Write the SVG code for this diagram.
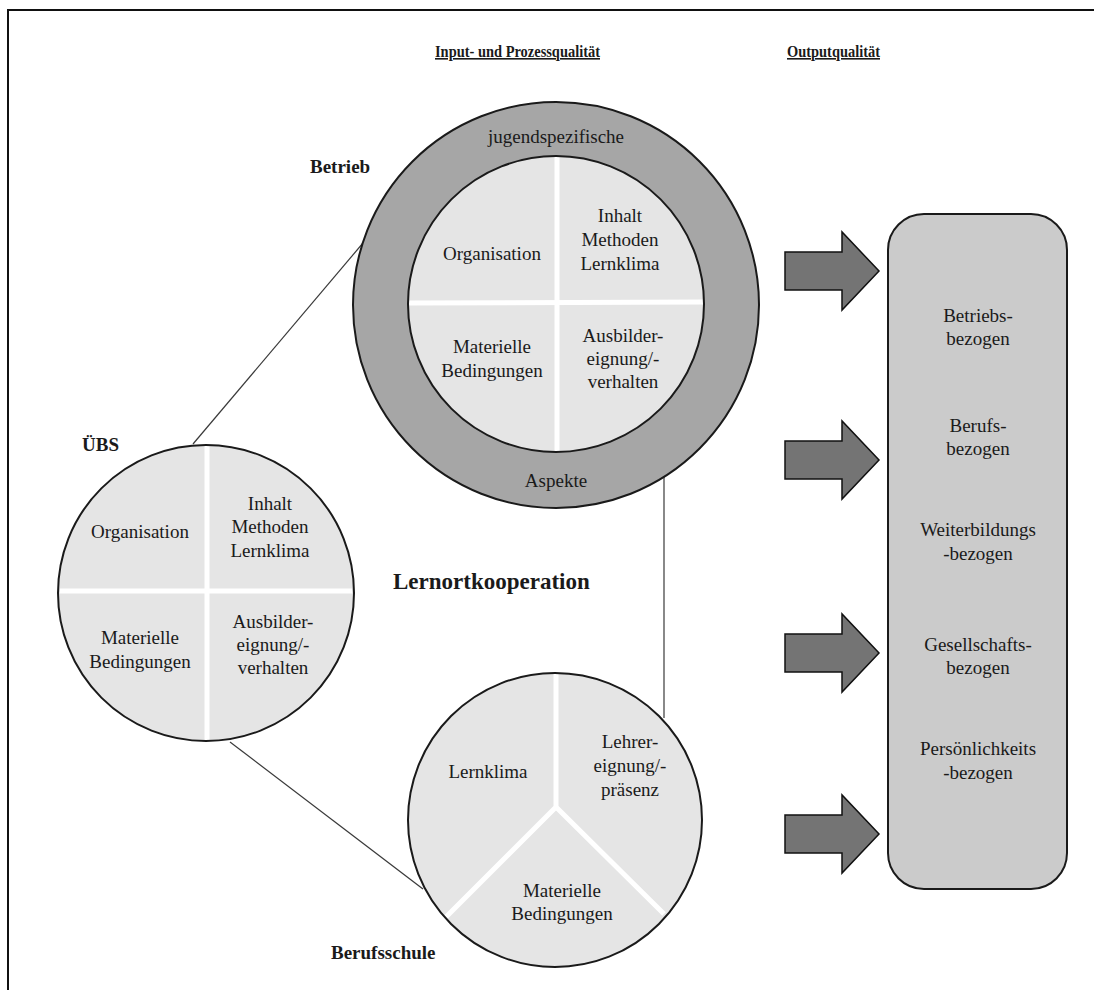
<svg xmlns="http://www.w3.org/2000/svg" width="1094" height="990" viewBox="0 0 1094 990">
<style>
text{font-family:"Liberation Serif","Times New Roman",serif;fill:#1a1a1a}
.t{font-size:19px;text-anchor:middle}
.b{font-weight:bold;font-size:19px}
.h{font-weight:bold;font-size:16px;text-decoration:underline}
.inner{fill:#e5e5e5}
.ring{fill:#a6a6a6;stroke:#1a1a1a;stroke-width:2}
.out{fill:none;stroke:#1a1a1a;stroke-width:2}
.div{stroke:#ffffff;stroke-width:5;fill:none}
.con{stroke:#3a3a3a;stroke-width:1.2;fill:none}
.arrow{fill:#747474;stroke:#111;stroke-width:1.5;stroke-linejoin:miter}
.box{fill:#cbcbcb;stroke:#1a1a1a;stroke-width:2}
</style>
<rect width="1094" height="990" fill="#ffffff"/>
<path d="M8,990 V10 H1094" fill="none" stroke="#111" stroke-width="2"/>

<text class="h" x="435" y="57" textLength="165" lengthAdjust="spacingAndGlyphs">Input- und Prozessqualität</text>
<text class="h" x="787" y="57" textLength="93" lengthAdjust="spacingAndGlyphs">Outputqualität</text>

<g id="connectors">
<line class="con" x1="193" y1="444" x2="363" y2="243"/>
<line class="con" x1="230" y1="742" x2="423" y2="889"/>
<line class="con" x1="664" y1="476" x2="664" y2="718"/>
</g>

<g id="betrieb">
<circle class="ring" cx="556" cy="305" r="203"/>
<circle class="inner" cx="556" cy="304" r="148"/>
<line class="div" x1="557" y1="157" x2="557" y2="451"/>
<line class="div" x1="409" y1="303" x2="703" y2="302"/>
<circle class="out" cx="556" cy="304" r="148"/>
<text class="b" x="310" y="173">Betrieb</text>
<text class="t" x="556" y="143">jugendspezifische</text>
<text class="t" x="556" y="487">Aspekte</text>
<text class="t" x="492" y="260">Organisation</text>
<text class="t" x="620" y="222">Inhalt</text>
<text class="t" x="620" y="246">Methoden</text>
<text class="t" x="620" y="270">Lernklima</text>
<text class="t" x="492" y="353">Materielle</text>
<text class="t" x="492" y="377">Bedingungen</text>
<text class="t" x="623" y="342">Ausbilder-</text>
<text class="t" x="623" y="365">eignung/-</text>
<text class="t" x="623" y="388">verhalten</text>
</g>

<g id="uebs">
<circle class="inner" cx="206" cy="593" r="148"/>
<line class="div" x1="207" y1="445" x2="207" y2="741"/>
<line class="div" x1="60" y1="591" x2="352" y2="591"/>
<circle class="out" cx="206" cy="593" r="148"/>
<text class="b" x="82" y="451">ÜBS</text>
<text class="t" x="140" y="538">Organisation</text>
<text class="t" x="270" y="510">Inhalt</text>
<text class="t" x="270" y="533">Methoden</text>
<text class="t" x="270" y="557">Lernklima</text>
<text class="t" x="140" y="644">Materielle</text>
<text class="t" x="140" y="668">Bedingungen</text>
<text class="t" x="273" y="628">Ausbilder-</text>
<text class="t" x="273" y="651">eignung/-</text>
<text class="t" x="273" y="674">verhalten</text>
</g>

<text class="b" x="393" y="589" style="font-size:23px">Lernortkooperation</text>

<g id="berufsschule">
<circle class="inner" cx="555" cy="820" r="147"/>
<path class="div" d="M556,673 V807 M556,807 L446,917 M556,807 L664,914"/>
<circle class="out" cx="555" cy="820" r="147"/>
<text class="b" x="331" y="959">Berufsschule</text>
<text class="t" x="488" y="778">Lernklima</text>
<text class="t" x="630" y="748">Lehrer-</text>
<text class="t" x="630" y="772">eignung/-</text>
<text class="t" x="630" y="796">präsenz</text>
<text class="t" x="562" y="897">Materielle</text>
<text class="t" x="562" y="920">Bedingungen</text>
</g>

<g id="arrows">
<path class="arrow" d="M785,252 H842 V232 L879,271 L842,310 V290 H785 Z"/>
<path class="arrow" d="M785,441 H842 V421 L879,460 L842,499 V479 H785 Z"/>
<path class="arrow" d="M785,634 H842 V614 L879,653 L842,692 V672 H785 Z"/>
<path class="arrow" d="M785,815 H842 V795 L879,834 L842,873 V853 H785 Z"/>
</g>

<g id="output">
<rect class="box" x="888" y="214" width="179" height="675" rx="36" ry="36"/>
<text class="t" x="978" y="322">Betriebs-</text>
<text class="t" x="978" y="345">bezogen</text>
<text class="t" x="978" y="432">Berufs-</text>
<text class="t" x="978" y="455">bezogen</text>
<text class="t" x="978" y="536">Weiterbildungs</text>
<text class="t" x="978" y="560">-bezogen</text>
<text class="t" x="978" y="651">Gesellschafts-</text>
<text class="t" x="978" y="674">bezogen</text>
<text class="t" x="978" y="755">Persönlichkeits</text>
<text class="t" x="978" y="779">-bezogen</text>
</g>
</svg>
